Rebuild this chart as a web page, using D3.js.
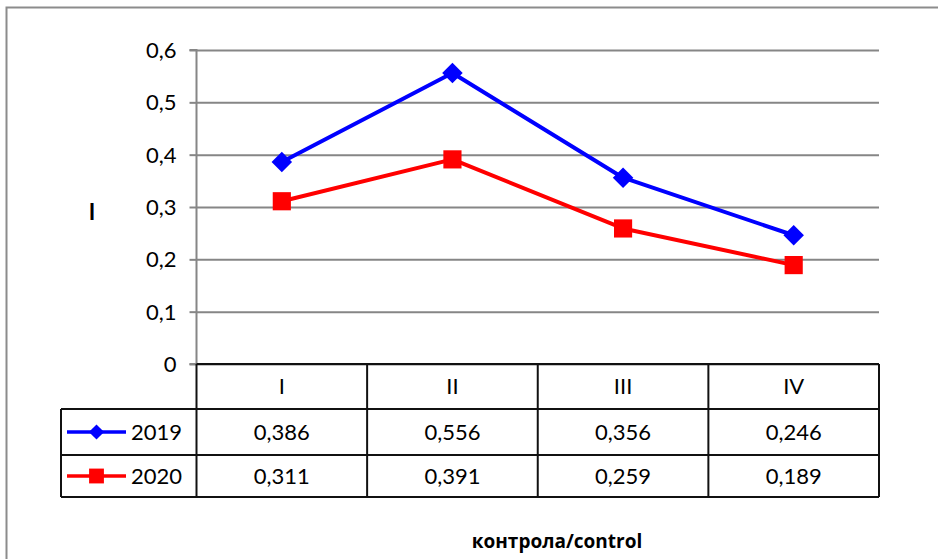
<!DOCTYPE html>
<html>
<head>
<meta charset="utf-8">
<script src="https://cdn.jsdelivr.net/npm/d3@7"></script>
<style>
  html, body { margin: 0; padding: 0; background: #fff; }
  svg { display: block; }
</style>
</head>
<body>
<svg id="chart" width="938" height="559"></svg>
<script>
// Chart data
const categories = ["I", "II", "III", "IV"];
const seriesNames = ["2019", "2020"];
const values2019 = [0.386, 0.556, 0.356, 0.246];
const values2020 = [0.311, 0.391, 0.259, 0.189];
const yTicks = [0, 0.1, 0.2, 0.3, 0.4, 0.5, 0.6];
const yTitle = "I";
const xTitle = "контрола/control";

const seriesColors = ["#0000FF", "#FF0000"];
const seriesValues = [values2019, values2020];
// diamonds are squares turned by 45 degrees
const seriesRotate = [45, 0];

const svg = d3.select("#chart");
const font = "Lato, 'Open Sans', sans-serif";

// Layout
const plotLeft = 196.5, plotRight = 879, plotTop = 50, plotBottom = 364;
const rowEdges = [364, 409, 455, 497];   // table row boundaries
const legendLeft = 61;

const x = d3.scaleBand().domain(categories).range([plotLeft, plotRight]);
const y = d3.scaleLinear().domain([0, 0.6]).range([plotBottom, plotTop]);
const comma = f => v => f(v).replace(".", ",");
const yFmt = v => v === 0 ? "0" : comma(d3.format(".1f"))(v);

// Outer chart border
svg.append("path")
  .attr("d", `M6.5,570 V7.5 H950`)
  .attr("fill", "none").attr("stroke", "#8c8c8c").attr("stroke-width", 2);

// Gridlines and y axis
const yAxis = d3.axisLeft(y).tickValues(yTicks).tickFormat(yFmt)
  .tickSize(7).tickPadding(13);
const gy = svg.append("g").attr("transform", `translate(${plotLeft},0)`).call(yAxis);
gy.select(".domain").attr("stroke", "#868686").attr("stroke-width", 2)
  .attr("d", `M-7,${plotTop}H0V${plotBottom}H-7`);
gy.selectAll(".tick line").attr("stroke", "#868686").attr("stroke-width", 2);
gy.selectAll(".tick text").attr("font-family", font).attr("font-size", 22)
  .attr("fill", "#000").attr("dy", "0.34em");
gy.selectAll(".tick").append("line")
  .attr("x1", 0).attr("x2", plotRight - plotLeft)
  .attr("stroke", "#868686").attr("stroke-width", 2);

// Series lines and markers
const cx = i => x(categories[i]) + x.bandwidth() / 2;
const line = d3.line().x((d, i) => cx(i)).y(d => y(d));
seriesValues.forEach((vals, s) => {
  svg.append("path").datum(vals).attr("d", line)
    .attr("fill", "none").attr("stroke", seriesColors[s]).attr("stroke-width", 4)
    .attr("stroke-linejoin", "round");
  const size = s === 0 ? 210 : 330;
  svg.append("g").selectAll("path").data(vals).join("path")
    .attr("transform", (d, i) => `translate(${cx(i)},${y(d)}) rotate(${seriesRotate[s]})`)
    .attr("d", d3.symbol(d3.symbolSquare, size))
    .attr("fill", seriesColors[s]);
});

// Data table
const tbl = svg.append("g").attr("stroke", "#111").attr("stroke-width", 2).attr("fill", "none");
tbl.append("line").attr("x1", plotLeft).attr("x2", plotRight).attr("y1", rowEdges[0]).attr("y2", rowEdges[0]);
[1, 2, 3].forEach(r => {
  tbl.append("line").attr("x1", legendLeft).attr("x2", plotRight).attr("y1", rowEdges[r]).attr("y2", rowEdges[r]);
});
tbl.append("line").attr("x1", legendLeft).attr("x2", legendLeft).attr("y1", rowEdges[1]).attr("y2", rowEdges[3]);
categories.forEach(c => {
  tbl.append("line").attr("x1", x(c)).attr("x2", x(c)).attr("y1", rowEdges[0]).attr("y2", rowEdges[3]);
});
tbl.append("line").attr("x1", plotRight).attr("x2", plotRight).attr("y1", rowEdges[0]).attr("y2", rowEdges[3]);

// Category header
svg.append("g").selectAll("text").data(categories).join("text")
  .attr("x", (d, i) => cx(i))
  .attr("y", (rowEdges[0] + rowEdges[1]) / 2)
  .attr("dy", "0.36em").attr("text-anchor", "middle")
  .attr("font-family", font).attr("font-size", 22).text(d => d);

// Value rows with legend keys
const fmt3 = comma(d3.format(".3f"));
seriesValues.forEach((vals, s) => {
  const cy = (rowEdges[s + 1] + rowEdges[s + 2]) / 2;
  svg.append("g").selectAll("text").data(vals).join("text")
    .attr("x", (d, i) => cx(i))
    .attr("y", cy).attr("dy", "0.36em").attr("text-anchor", "middle")
    .attr("font-family", font).attr("font-size", 22).text(d => fmt3(d));
  svg.append("line").attr("x1", 67).attr("x2", 126).attr("y1", cy).attr("y2", cy)
    .attr("stroke", seriesColors[s]).attr("stroke-width", 3.5);
  svg.append("path")
    .attr("transform", `translate(96.5,${cy}) rotate(${seriesRotate[s]})`)
    .attr("d", d3.symbol(d3.symbolSquare, s === 0 ? 115 : 220))
    .attr("fill", seriesColors[s]);
  svg.append("text").attr("x", 131).attr("y", cy).attr("dy", "0.36em")
    .attr("font-family", font).attr("font-size", 22).text(seriesNames[s]);
});

// Axis titles
svg.append("text").attr("x", 92).attr("y", 212).attr("dy", "0.36em")
  .attr("text-anchor", "middle").attr("font-family", font).attr("font-weight", "bold")
  .attr("font-size", 22).text(yTitle);
svg.append("text").attr("x", 557).attr("y", 541).attr("dy", "0.36em")
  .attr("text-anchor", "middle").attr("font-family", "'Open Sans', sans-serif")
  .attr("font-weight", "bold").attr("font-size", 19).text(xTitle);
</script>
</body>
</html>
